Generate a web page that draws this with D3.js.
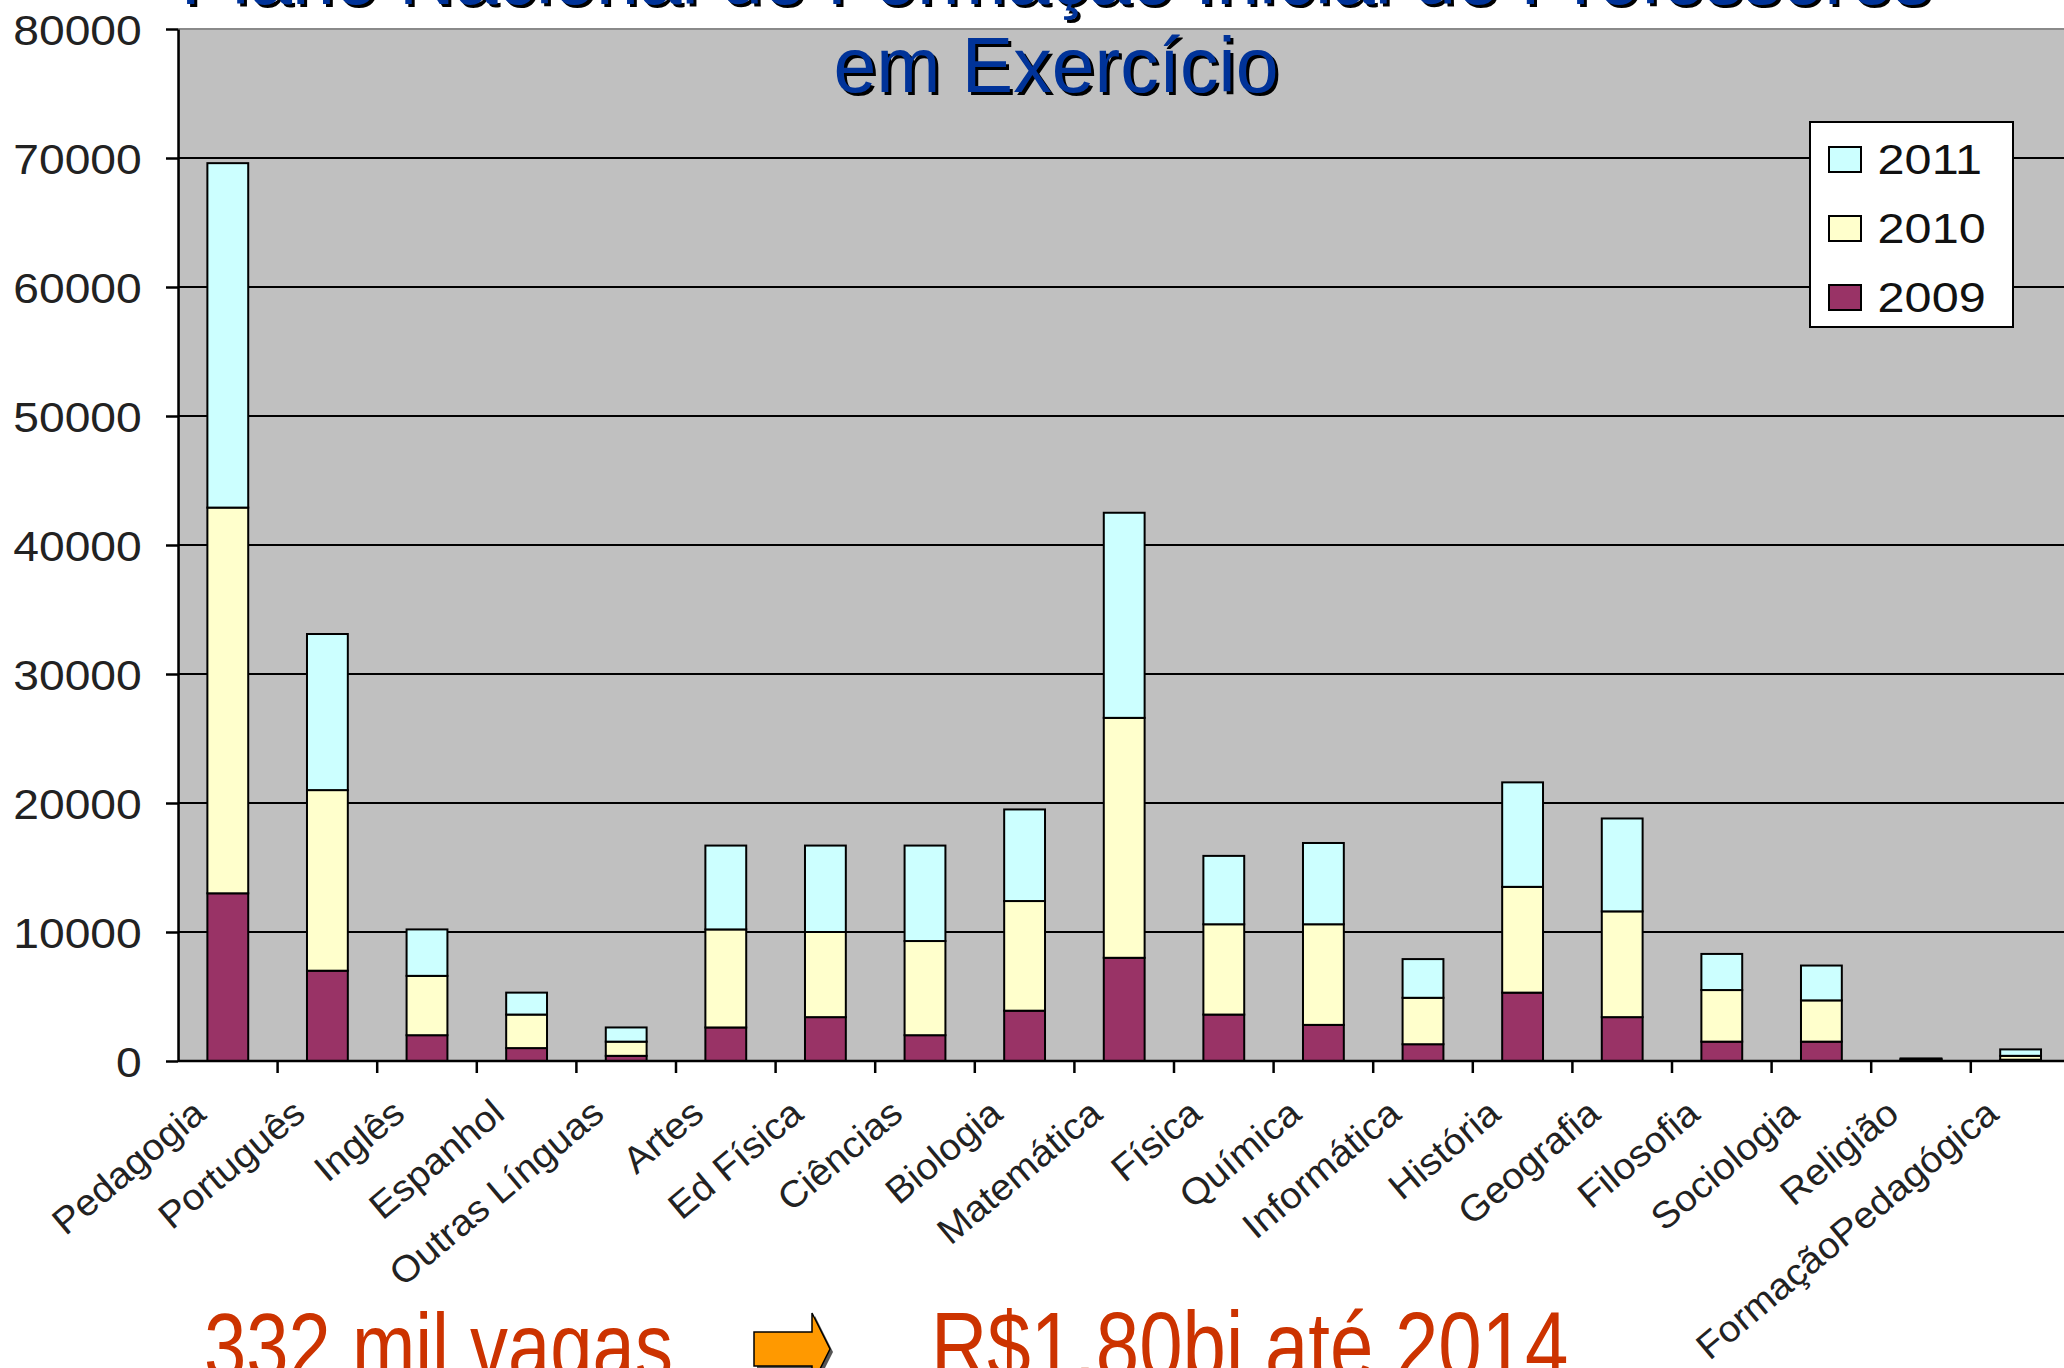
<!DOCTYPE html>
<html>
<head>
<meta charset="utf-8">
<script src="https://cdn.jsdelivr.net/npm/d3@7"></script>
<style>
  body { margin: 0; background: #fff; }
  svg { display: block; font-family: "Liberation Sans", Arial, sans-serif; }
</style>
</head>
<body>
<svg id="chart" width="2064" height="1368"></svg>
<script>
// categories and values per year (stacked 2009 -> 2010 -> 2011)
const categories = ["Pedagogia", "Português", "Inglês", "Espanhol", "Outras Línguas", "Artes",
    "Ed Física", "Ciências", "Biologia", "Matemática", "Física", "Química", "Informática",
    "História", "Geografia", "Filosofia", "Sociologia", "Religião", "FormaçãoPedagógica"];
const v2009 = [13000, 7000, 2000, 1000, 400, 2600, 3400, 2000, 3900, 8000, 3600, 2800, 1300, 5300, 3400, 1500, 1500, 100, 100];
const v2010 = [29900, 14000, 4600, 2600, 1100, 7600, 6600, 7300, 8500, 18600, 7000, 7800, 3600, 8200, 8200, 4000, 3200, 50, 300];
const v2011 = [26700, 12100, 3600, 1700, 1100, 6500, 6700, 7400, 7100, 15900, 5300, 6300, 3000, 8100, 7200, 2800, 2700, 50, 500];
const years = ["2009", "2010", "2011"];
const yearColors = ["#993366", "#ffffcc", "#ccffff"];
const yTicks = [0, 10000, 20000, 30000, 40000, 50000, 60000, 70000, 80000];
const titleLines = ["Plano Nacional de Formação Inicial de Professores", "em Exercício"];
const footLeft = "332 mil vagas";
const footRight = "R$1,80bi até 2014";

const svg = d3.select("#chart");
const W = 2064, H = 1368;
const plotLeft = 178, plotTop = 29, plotBottom = 1061;

svg.append("rect").attr("width", W).attr("height", H).attr("fill", "#fff");

let rows = categories.map((c, i) => ({cat: c, "2009": v2009[i], "2010": v2010[i], "2011": v2011[i]}));
let series = d3.stack().keys(years)(rows);

let x = d3.scaleBand().domain(categories).range([plotLeft, plotLeft + 99.6 * categories.length]);
let y = d3.scaleLinear().domain([0, 80000]).range([plotBottom, plotTop]);
let color = d3.scaleOrdinal().domain(years).range(yearColors);
let barW = x.step() * 0.41;

// plot area
svg.append("rect")
    .attr("x", plotLeft + 1).attr("y", y(80000))
    .attr("width", W - plotLeft + 10).attr("height", y(0) - y(80000))
    .attr("fill", "#c0c0c0").attr("stroke", "#8a8a8a").attr("stroke-width", 2);

// grid lines
svg.append("g").selectAll("line")
    .data(yTicks.filter(d => d > 0 && d < 80000))
    .join("line")
    .attr("x1", plotLeft).attr("x2", W)
    .attr("y1", d => y(d)).attr("y2", d => y(d))
    .attr("stroke", "#000").attr("stroke-width", 2);

// title (second line sits over the plot area)
let title = svg.append("g").attr("font-size", 77).attr("text-anchor", "middle");
titleLines.forEach((t, i) => {
    title.append("text").attr("x", 1059).attr("y", 7 + i * 88).attr("fill", "#000").text(t);
    title.append("text").attr("x", 1056).attr("y", 4 + i * 88).attr("fill", "#003399").text(t);
});

// bars
svg.append("g").selectAll("g")
    .data(series)
    .join("g")
    .attr("fill", d => color(d.key))
    .selectAll("rect")
    .data(d => d)
    .join("rect")
    .attr("x", d => x(d.data.cat) + (x.step() - barW) / 2)
    .attr("y", d => y(d[1]))
    .attr("width", barW)
    .attr("height", d => y(d[0]) - y(d[1]))
    .attr("stroke", "#000").attr("stroke-width", 2);

// y axis
let yAxis = svg.append("g")
    .attr("transform", `translate(${plotLeft},0)`)
    .call(d3.axisLeft(y).tickValues(yTicks).tickSize(12).tickSizeOuter(0).tickFormat(d3.format("d")));
yAxis.select(".domain").attr("stroke", "#000").attr("stroke-width", 2.5);
yAxis.selectAll(".tick line").attr("stroke", "#000").attr("stroke-width", 2.5);
yAxis.selectAll(".tick text")
    .attr("font-size", 42).attr("fill", "#222")
    .attr("font-family", "Liberation Sans, Arial, sans-serif")
    .attr("x", -33).attr("dy", "0.36em")
    .attr("transform", "scale(1.1,1)");

// x axis: line + ticks between categories
let xAxis = svg.append("g");
xAxis.append("line")
    .attr("x1", plotLeft).attr("x2", W).attr("y1", y(0)).attr("y2", y(0))
    .attr("stroke", "#000").attr("stroke-width", 2.5);
xAxis.selectAll("line.tk")
    .data(categories.slice(1))
    .join("line").attr("class", "tk")
    .attr("x1", d => x(d)).attr("x2", d => x(d))
    .attr("y1", y(0)).attr("y2", y(0) + 12)
    .attr("stroke", "#000").attr("stroke-width", 2.5);
xAxis.selectAll("text")
    .data(categories)
    .join("text")
    .attr("transform", d => `translate(${x(d) + x.step() / 2 - 20},${y(0) + 56}) rotate(-40) scale(1.05,1)`)
    .attr("text-anchor", "end")
    .attr("font-size", 37).attr("fill", "#222")
    .text(d => d);

// legend
let lg = svg.append("g").attr("transform", "translate(1810,122)");
lg.append("rect").attr("width", 203).attr("height", 205)
    .attr("fill", "#fff").attr("stroke", "#000").attr("stroke-width", 2);
let item = lg.selectAll("g.item")
    .data(years.slice().reverse())
    .join("g").attr("class", "item")
    .attr("transform", (d, i) => `translate(19,${37 + i * 69})`);
item.append("rect").attr("y", -12).attr("width", 32).attr("height", 25)
    .attr("fill", d => color(d)).attr("stroke", "#000").attr("stroke-width", 2);
item.append("text").attr("x", 43).attr("dy", "0.36em")
    .attr("font-size", 43).attr("fill", "#111")
    .attr("transform", "scale(1.13,1)")
    .text(d => d);

// footer
svg.append("text")
    .attr("transform", "translate(204,1378) scale(1,1.22)")
    .attr("font-size", 76).attr("fill", "#cc3300")
    .text(footLeft);
svg.append("text")
    .attr("transform", "translate(931,1378) scale(1,1.22)")
    .attr("font-size", 78).attr("fill", "#cc3300")
    .text(footRight);

let arrow = [[754, 1332], [812, 1332], [812, 1313], [830, 1349], [812, 1385], [812, 1366], [754, 1366]];
svg.append("path").attr("d", d3.line()(arrow) + "Z").attr("transform", "translate(3,3)")
    .attr("fill", "#555");
svg.append("path").attr("d", d3.line()(arrow) + "Z")
    .attr("fill", "#ff9900").attr("stroke", "#000").attr("stroke-width", 1.5);
</script>
</body>
</html>
